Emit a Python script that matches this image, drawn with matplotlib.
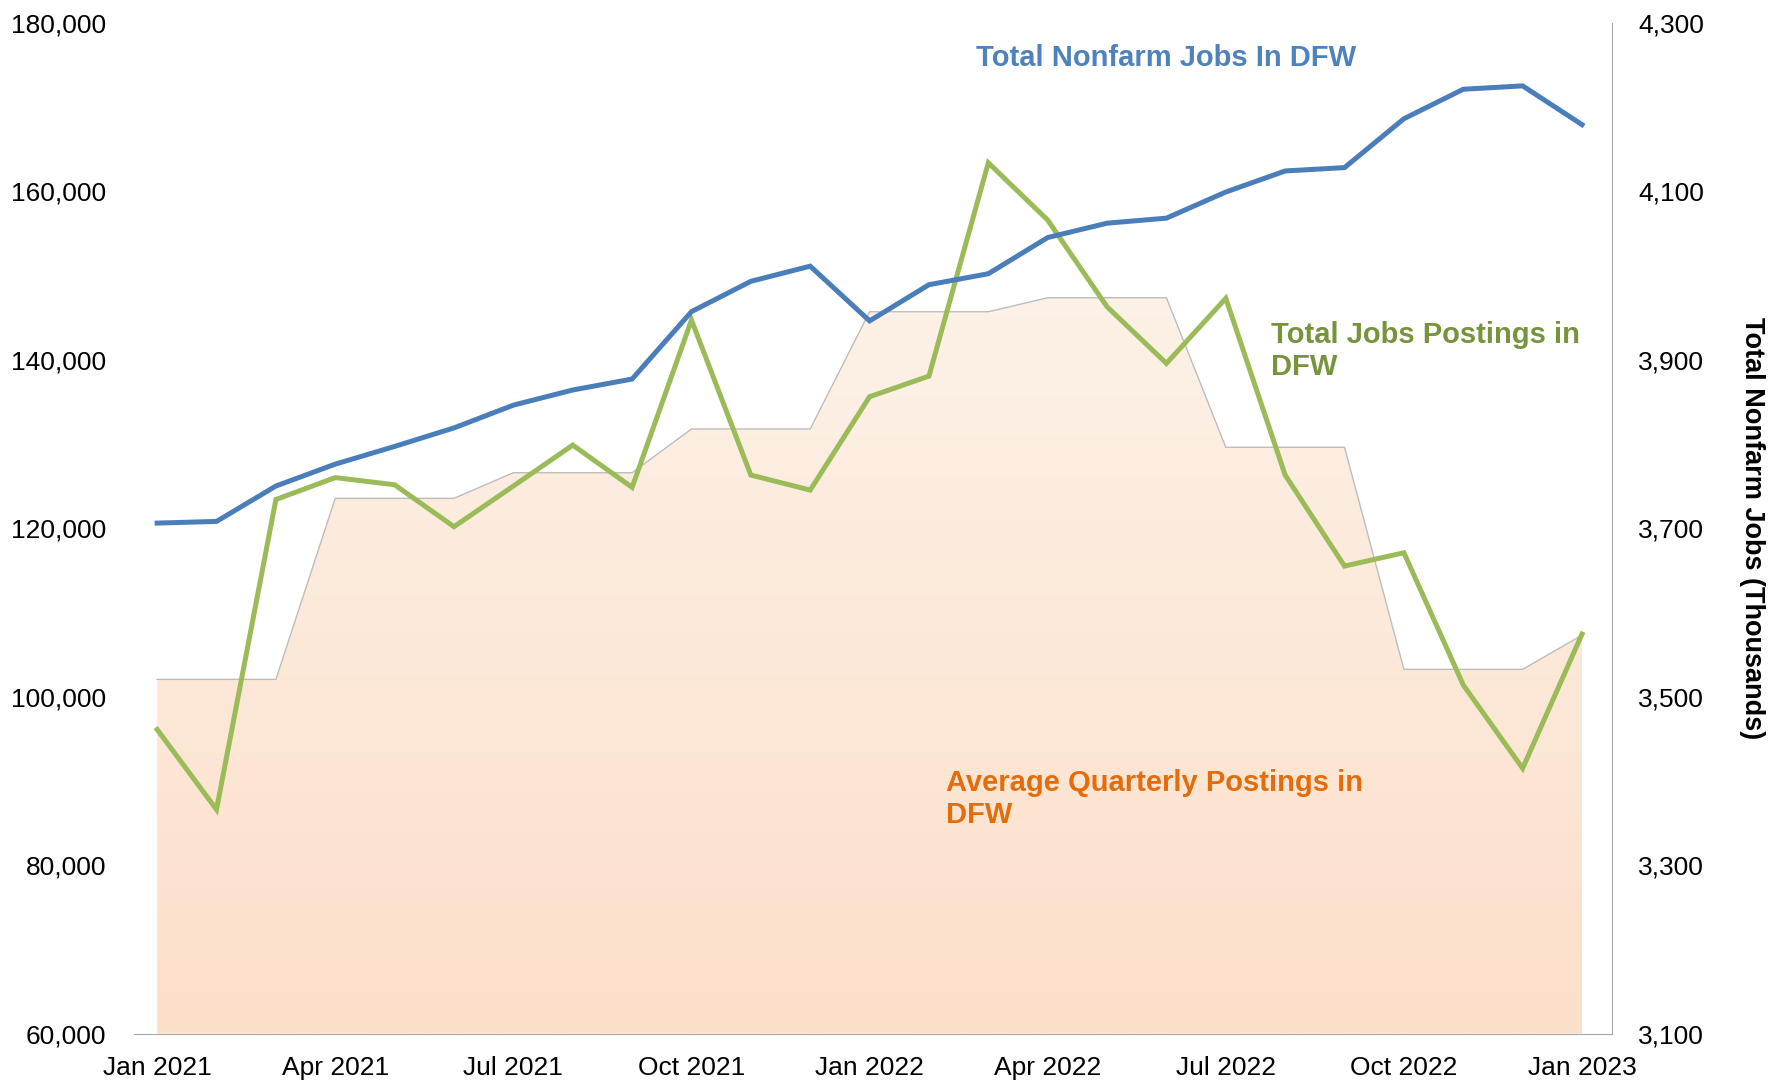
import numpy as np
import matplotlib
matplotlib.use("Agg")
import matplotlib.pyplot as plt
from matplotlib.colors import LinearSegmentedColormap
from matplotlib.ticker import FuncFormatter

plt.rcParams['font.family'] = ['Liberation Sans', 'DejaVu Sans']

# monthly data, Jan 2021 - Jan 2023
months = ['Jan 2021', 'Feb 2021', 'Mar 2021', 'Apr 2021', 'May 2021', 'Jun 2021',
          'Jul 2021', 'Aug 2021', 'Sep 2021', 'Oct 2021', 'Nov 2021', 'Dec 2021',
          'Jan 2022', 'Feb 2022', 'Mar 2022', 'Apr 2022', 'May 2022', 'Jun 2022',
          'Jul 2022', 'Aug 2022', 'Sep 2022', 'Oct 2022', 'Nov 2022', 'Dec 2022',
          'Jan 2023']

# total job postings in DFW
postings = [96100, 86600, 123400, 126000, 125150, 120170, 125000, 129860, 124840,
            144700, 126300, 124520, 135600, 138050, 163370, 156570, 146280, 139560,
            147280, 126300, 115500, 117080, 101380, 91490, 107430]

# total nonfarm jobs in DFW (thousands)
nonfarm = [3706, 3708, 3750, 3776, 3797, 3819, 3846, 3864, 3877, 3957, 3993, 4011,
           3946, 3989, 4002, 4045, 4062, 4068, 4099, 4124, 4128, 4186, 4221, 4225,
           4179]

# average quarterly postings, Q1 2021 - Q1 2023
quarterly = [102050, 123540, 126580, 131770, 145690, 147350, 129600, 103240, 107300]

x = np.arange(len(months))
area = np.repeat(quarterly, 3)[:len(months)]

W, H = 1777, 1081
fig = plt.figure(figsize=(W / 100, H / 100), dpi=100)
ax = fig.add_axes([134 / W, 1 - 1033.6 / H, (1611.7 - 134) / W, (1033.6 - 22.7) / H])
ax2 = ax.twinx()

# quarterly area with a soft vertical gradient
poly = ax.fill_between(x, 60000, area, color='none', lw=0)
cmap = LinearSegmentedColormap.from_list('peach', ['#FCDFC9', '#FDF2E8'])
grad = np.linspace(0, 1, 256).reshape(-1, 1)
img = ax.imshow(grad, cmap=cmap, origin='lower', aspect='auto',
                extent=[0, len(months) - 1, 60000, 150000], zorder=1)
img.set_clip_path(poly.get_paths()[0], transform=ax.transData)
ax.plot(x, area, color='#BDBDBD', lw=1, zorder=2)

ax.plot(x, postings, color='#9BBB59', lw=3.6, zorder=3, solid_joinstyle='miter')
ax2.plot(x, nonfarm, color='#4A7EBB', lw=3.6, zorder=3, solid_joinstyle='miter')

ax.set_xlim(-0.39, 24.5)
ax.set_ylim(60000, 180000)
ax2.set_ylim(3100, 4300)
ax.set_yticks(np.arange(60000, 180001, 20000))
ax2.set_yticks(np.arange(3100, 4301, 200))
ax.yaxis.set_major_formatter(FuncFormatter(lambda v, p: f'{v:,.0f}'))
ax2.yaxis.set_major_formatter(FuncFormatter(lambda v, p: f'{v:,.0f}'))

ax.set_xticks(x[::3])
ax.set_xticklabels(months[::3])

for a in (ax, ax2):
    for s in a.spines.values():
        s.set_visible(False)
    a.tick_params(labelsize=19, colors='black', length=0)
ax.spines['bottom'].set_visible(True)
ax.spines['bottom'].set_color('#A6A6A6')
ax2.spines['right'].set_visible(True)
ax2.spines['right'].set_color('#A6A6A6')
ax.tick_params(axis='y', pad=20)
ax.tick_params(axis='x', pad=16)
ax2.tick_params(axis='y', pad=19)

ax2.set_ylabel('Total Nonfarm Jobs (Thousands)', fontsize=19.5, fontweight='bold',
               rotation=270, labelpad=30)
ax2.yaxis.set_label_coords(1.104, 0.5)

# series labels
fig.text(976 / W, 1 - 58 / H, 'Total Nonfarm Jobs In DFW', color='#4F81BD',
         fontsize=21, fontweight='bold', va='center')
fig.text(1271 / W, 1 - 351 / H, 'Total Jobs Postings in\nDFW', color='#77933C',
         fontsize=21, fontweight='bold', va='center', linespacing=1.15)
fig.text(946 / W, 1 - 799 / H, 'Average Quarterly Postings in\nDFW', color='#E46C0A',
         fontsize=21, fontweight='bold', va='center', linespacing=1.15)

fig.savefig('out.png', dpi=100)
